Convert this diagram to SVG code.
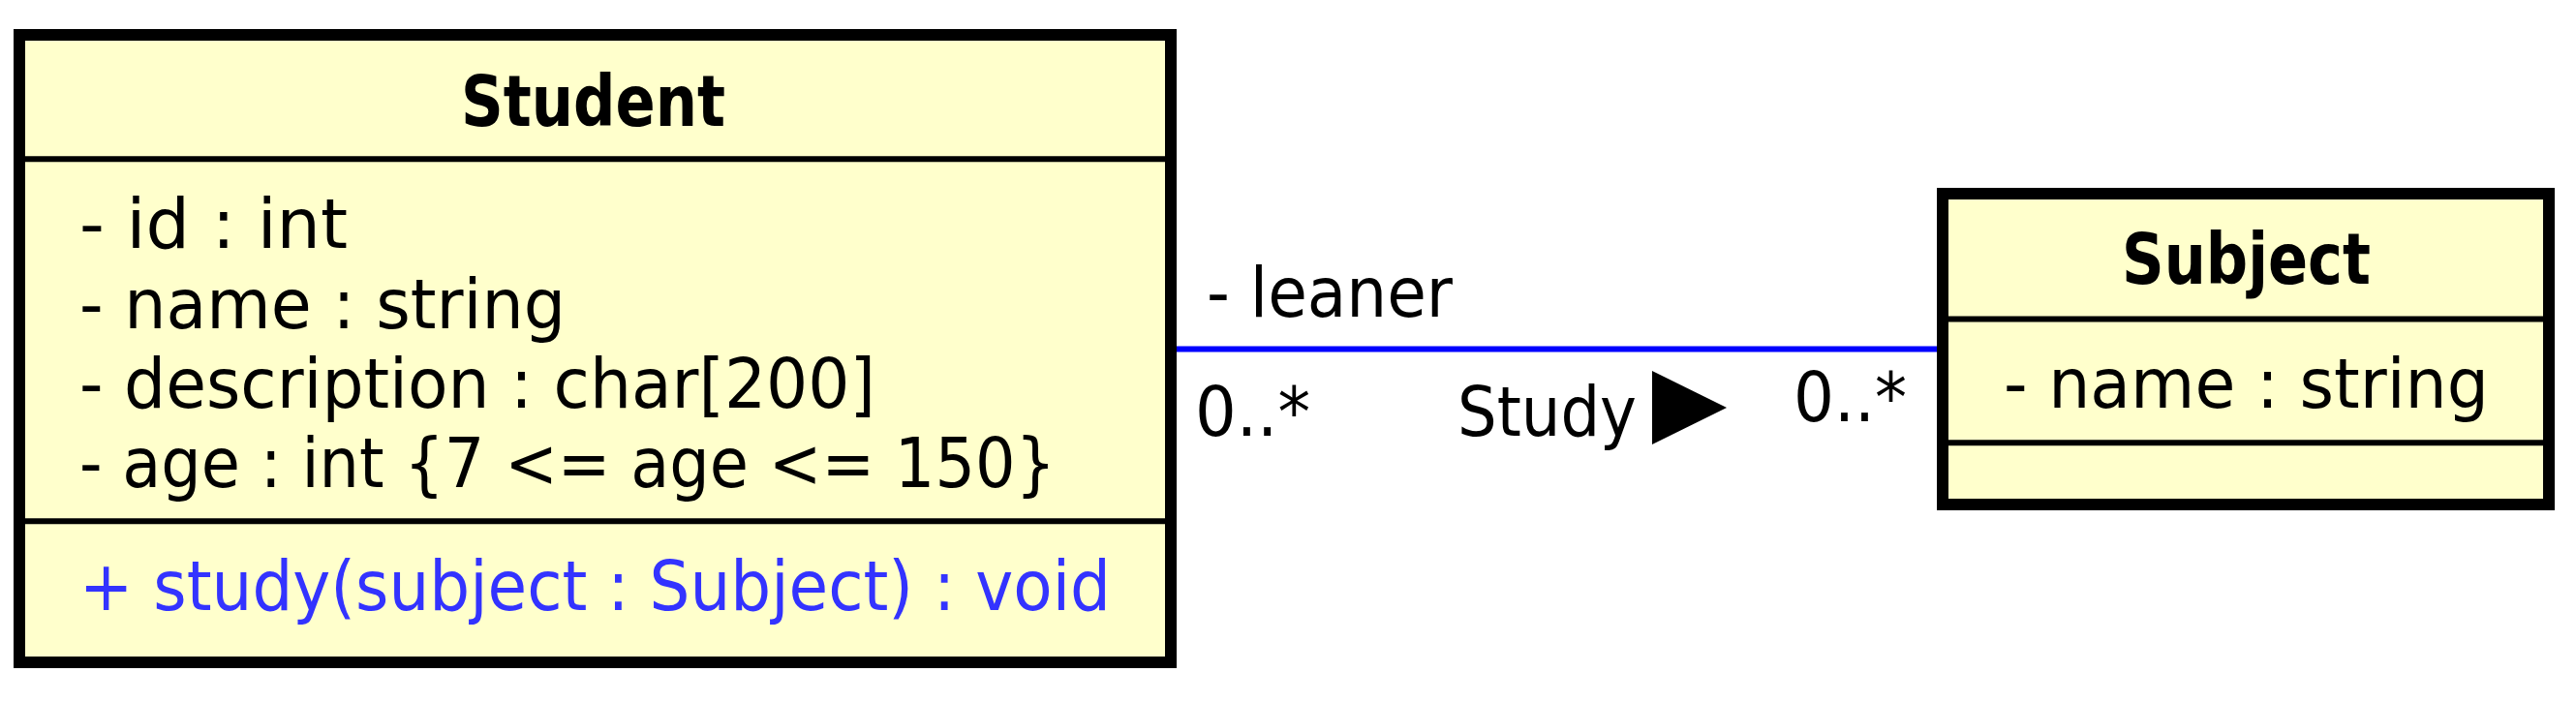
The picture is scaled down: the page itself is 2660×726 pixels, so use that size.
<svg xmlns="http://www.w3.org/2000/svg" width="2660" height="726" viewBox="0 0 2660 726">
<style>
.box{fill:#FFFFCC;stroke:#000;stroke-width:12}
.sep{stroke:#000;stroke-width:6}
.t{font-family:"DejaVu Sans","Open Sans",sans-serif;font-size:71px;fill:#000}
.b{font-weight:bold;font-size:73px}
.op{fill:#3333FF}
.assoc{stroke:#0000FF;stroke-width:6;fill:none}
</style>
<rect width="2660" height="726" fill="#fff"/>
<g id="connectors">
<line class="assoc" x1="1209" y1="360.5" x2="2006" y2="360.5"/>
<text class="t" x="1246" y="327" textLength="254" lengthAdjust="spacingAndGlyphs">- leaner</text>
<text class="t" x="1234" y="450" textLength="119" lengthAdjust="spacingAndGlyphs">0..*</text>
<text class="t" x="1505" y="450" textLength="185" lengthAdjust="spacingAndGlyphs">Study</text>
<polygon points="1706,383 1783,421 1706,459" fill="#000"/>
<text class="t" x="1852" y="435" textLength="117" lengthAdjust="spacingAndGlyphs">0..*</text>
</g>
<g id="Student">
<rect class="box" x="20" y="36" width="1189" height="648"/>
<line class="sep" x1="20" y1="164.3" x2="1209" y2="164.3"/>
<line class="sep" x1="20" y1="538.3" x2="1209" y2="538.3"/>
<text class="t b" x="476" y="130" textLength="273" lengthAdjust="spacingAndGlyphs">Student</text>
<text class="t" x="82" y="256" textLength="277" lengthAdjust="spacingAndGlyphs">- id : int</text>
<text class="t" x="82" y="339" textLength="502" lengthAdjust="spacingAndGlyphs">- name : string</text>
<text class="t" x="82" y="421" textLength="822" lengthAdjust="spacingAndGlyphs">- description : char[200]</text>
<text class="t" x="82" y="503" textLength="1008" lengthAdjust="spacingAndGlyphs">- age : int {7 &lt;= age &lt;= 150}</text>
<text class="t op" x="82" y="630" textLength="1065" lengthAdjust="spacingAndGlyphs">+ study(subject : Subject) : void</text>
</g>
<g id="Subject">
<rect class="box" x="2006" y="200" width="626" height="321"/>
<line class="sep" x1="2006" y1="329.5" x2="2632" y2="329.5"/>
<line class="sep" x1="2006" y1="457.3" x2="2632" y2="457.3"/>
<text class="t b" x="2191" y="293" textLength="257" lengthAdjust="spacingAndGlyphs">Subject</text>
<text class="t" x="2069" y="421" textLength="501" lengthAdjust="spacingAndGlyphs">- name : string</text>
</g>
</svg>
